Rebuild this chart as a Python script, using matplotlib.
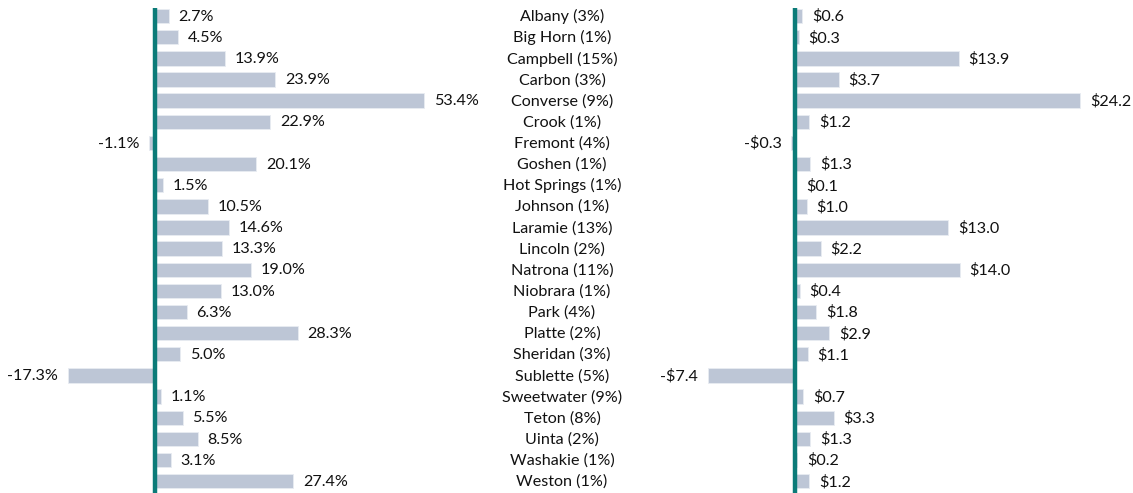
import matplotlib.pyplot as plt
import numpy as np

counties = ["Albany (3%)", "Big Horn (1%)", "Campbell (15%)", "Carbon (3%)",
            "Converse (9%)", "Crook (1%)", "Fremont (4%)", "Goshen (1%)",
            "Hot Springs (1%)", "Johnson (1%)", "Laramie (13%)", "Lincoln (2%)",
            "Natrona (11%)", "Niobrara (1%)", "Park (4%)", "Platte (2%)",
            "Sheridan (3%)", "Sublette (5%)", "Sweetwater (9%)", "Teton (8%)",
            "Uinta (2%)", "Washakie (1%)", "Weston (1%)"]
pct_change = [2.7, 4.5, 13.9, 23.9, 53.4, 22.9, -1.1, 20.1, 1.5, 10.5, 14.6, 13.3,
              19.0, 13.0, 6.3, 28.3, 5.0, -17.3, 1.1, 5.5, 8.5, 3.1, 27.4]
dollar_change = [0.6, 0.3, 13.9, 3.7, 24.2, 1.2, -0.3, 1.3, 0.1, 1.0, 13.0, 2.2,
                 14.0, 0.4, 1.8, 2.9, 1.1, -7.4, 0.7, 3.3, 1.3, 0.2, 1.2]

plt.rcParams['font.family'] = ['Lato', 'DejaVu Sans']
bar_color = '#bdc6d6'
line_color = '#0b7b78'
text_color = '#111111'
fsize = 11.6
W, H = 1133, 493

fig = plt.figure(figsize=(W / 100, H / 100), dpi=100)

y = np.arange(len(counties))
ylim = (22.56, -0.38)


def draw(ax, values, xlim, fmt):
    ax.barh(y, values, height=0.68, color=bar_color, edgecolor='#e8ecf2', linewidth=0.6)
    ax.set_xlim(*xlim)
    ax.set_ylim(*ylim)
    ax.axvline(0, color=line_color, lw=3.2, zorder=3)
    for yi, v in zip(y, values):
        if v >= 0:
            ax.annotate(fmt(v), (v, yi), xytext=(7, -0.5), textcoords='offset points',
                        ha='left', va='center', fontsize=fsize, color=text_color)
        else:
            ax.annotate(fmt(v), (v, yi), xytext=(-7, -0.5), textcoords='offset points',
                        ha='right', va='center', fontsize=fsize, color=text_color)
    ax.axis('off')


# left panel: percent change
ax1 = fig.add_axes([0, 0, 460 / W, 485 / H])
draw(ax1, pct_change, (-155 / 5.04, (460 - 155) / 5.04), lambda v: f"{v:.1f}%")

# right panel: dollar change
ax2 = fig.add_axes([640 / W, 0, (W - 640) / W, 485 / H])
draw(ax2, dollar_change, ((640 - 795) / 11.78, (W - 795) / 11.78),
     lambda v: f"-${abs(v):.1f}" if v < 0 else f"${v:.1f}")

# county names in the middle
for yi, name in zip(y, counties):
    ax1.annotate(name, (0, yi), xycoords=('figure fraction', 'data'),
                 xytext=(562, -0.7), textcoords='offset pixels',
                 ha='center', va='center', fontsize=fsize, color=text_color)

fig.savefig('out.png', dpi=100)
